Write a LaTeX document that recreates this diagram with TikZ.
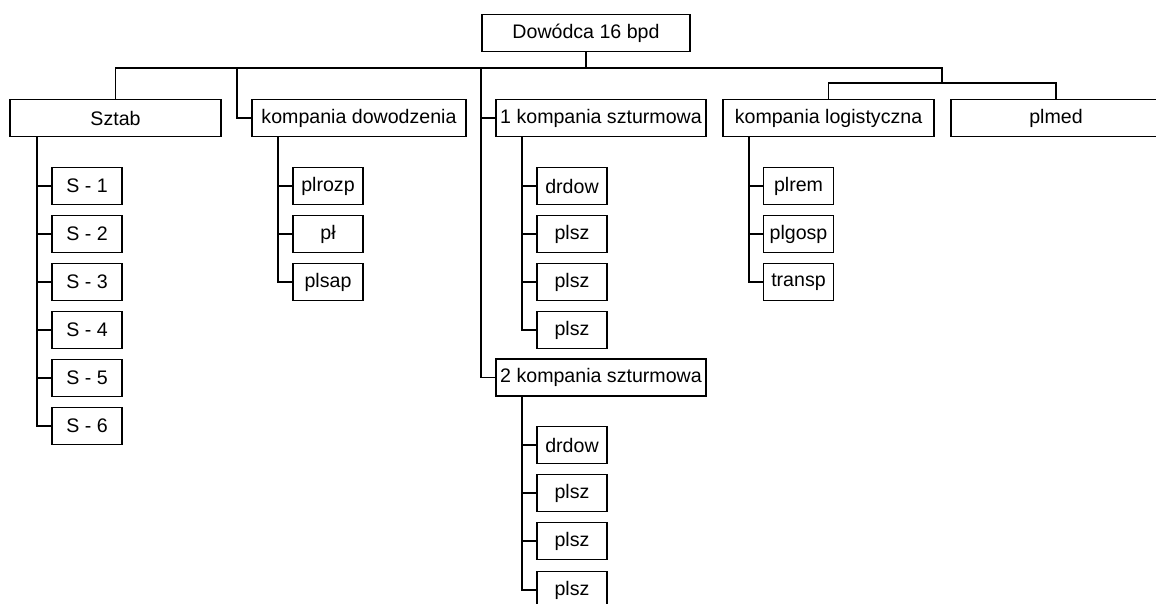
\documentclass[tikz,border=0pt]{standalone}
\usepackage{fontspec}
\setmainfont{Liberation Sans}
\begin{document}
\begin{tikzpicture}[x=1pt,y=-1pt,
  box/.style={draw,line width=1.8pt,rectangle,inner sep=0pt,minimum height=37pt,font=\fontsize{19.6}{22}\selectfont},
  small/.style={box,minimum width=70pt},
  conn/.style={line width=1.8pt}]
\clip (0,0) rectangle (1156,604);
\fill[white] (0,0) rectangle (1156,604);
% top level
\node[box,minimum width=208pt] (dow) at (586,33) {Dowódca 16 bpd};
\node[box,minimum width=211pt] (sztab) at (115.5,118) {Sztab};
\node[box,minimum width=214pt] (kd) at (359,118) {kompania dowodzenia};
\node[box,minimum width=210pt] (k1) at (601,118) {1 kompania szturmowa};
\node[box,minimum width=211pt] (kl) at (828.5,118) {kompania logistyczna};
\node[box,minimum width=210pt] (pm) at (1056,118) {plmed};
\node[box,minimum width=210pt] (k2) at (601,377.5) {2 kompania szturmowa};
% bus
\coordinate (jr) at (942,68);
\coordinate (jkd) at (237,68);
\coordinate (jtr) at (481,68);
\draw[conn] (sztab.north) |- (jr) -- ++(0,15) coordinate (jr2);
\draw[conn] (dow.south) -- (dow.south |- jr);
\draw[conn] (jkd) |- (kd.west);
\draw[conn] (jtr) |- (k2.west);
\draw[conn] (jtr |- k1.west) -- (k1.west);
\draw[conn] (kl.north) |- (jr2) -| (pm.north);
% Sztab children
\foreach \i in {1,...,6} {
  \node[small] (s\i) at (87,{186+48*(\i-1)}) {S - \i};
}
\coordinate (sst) at (37,137);
\draw[conn] (sst) |- (s6.west);
\foreach \i in {1,...,5} { \draw[conn] (sst |- s\i.west) -- (s\i.west); }
% kompania dowodzenia children
\node[small] (kd1) at (328,186) {plrozp};
\node[small] (kd2) at (328,234) {pł};
\node[small] (kd3) at (328,282) {plsap};
\coordinate (kdst) at (278,137);
\draw[conn] (kdst) |- (kd3.west);
\foreach \i in {1,2} { \draw[conn] (kdst |- kd\i.west) -- (kd\i.west); }
% 1 kompania szturmowa children
\node[small] (a1) at (572,186) {drdow};
\node[small] (a2) at (572,234) {plsz};
\node[small] (a3) at (572,282) {plsz};
\node[small] (a4) at (572,330) {plsz};
\coordinate (ast) at (522,137);
\draw[conn] (ast) |- (a4.west);
\foreach \i in {1,2,3} { \draw[conn] (ast |- a\i.west) -- (a\i.west); }
% 2 kompania szturmowa children
\node[small] (b1) at (572,445) {drdow};
\node[small] (b2) at (572,493) {plsz};
\node[small] (b3) at (572,541) {plsz};
\node[small] (b4) at (572,590) {plsz};
\coordinate (bst) at (522,396);
\draw[conn] (bst) |- (b4.west);
\foreach \i in {1,2,3} { \draw[conn] (bst |- b\i.west) -- (b\i.west); }
% kompania logistyczna children
\node[small] (l1) at (798.5,186) {plrem};
\node[small] (l2) at (798.5,234) {plgosp};
\node[small] (l3) at (798.5,282) {transp};
\coordinate (lst) at (749,137);
\draw[conn] (lst) |- (l3.west);
\foreach \i in {1,2} { \draw[conn] (lst |- l\i.west) -- (l\i.west); }
\end{tikzpicture}
\end{document}
